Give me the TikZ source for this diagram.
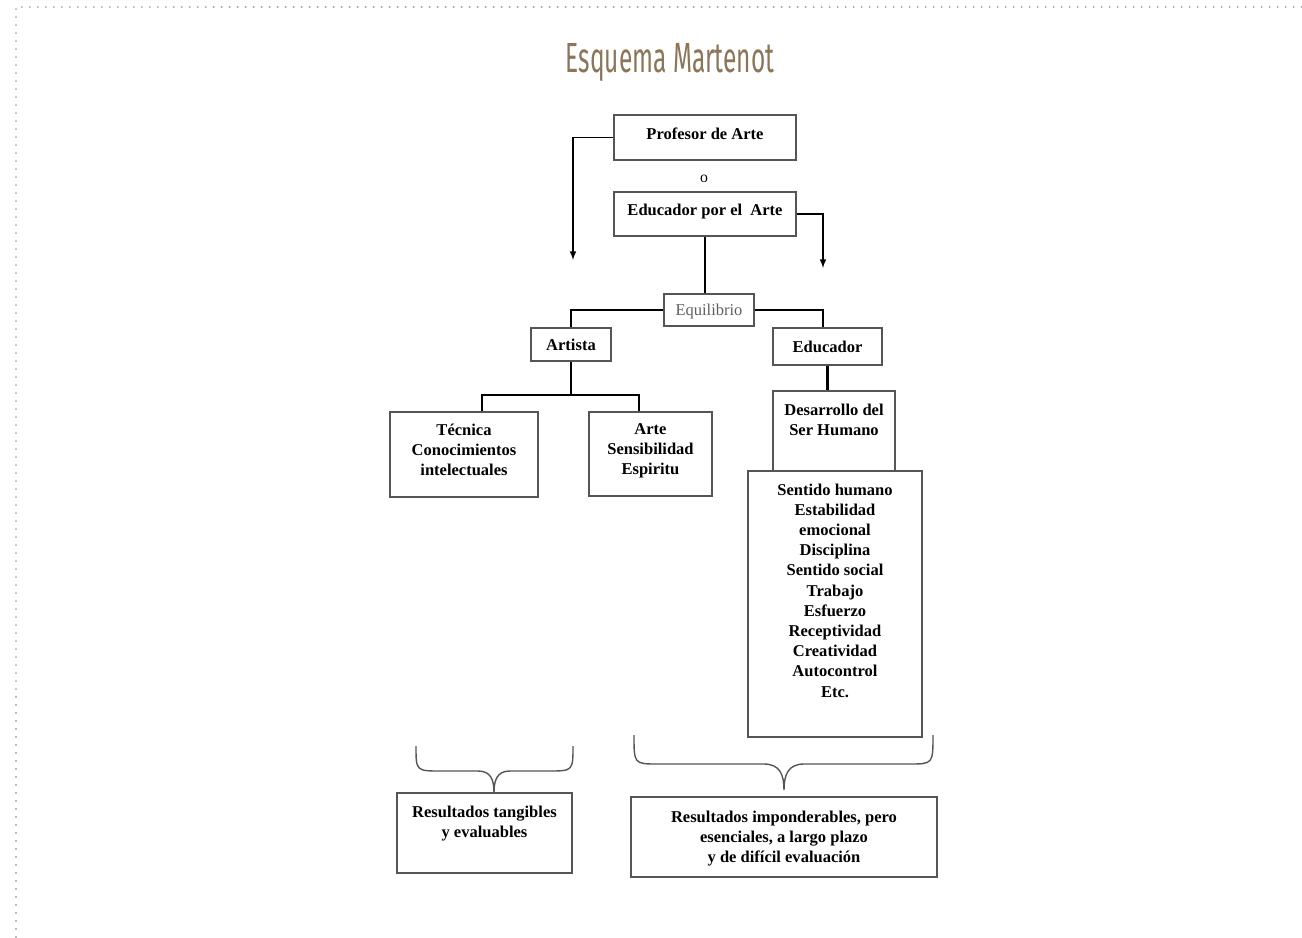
\documentclass[tikz,border=0pt]{standalone}
\usepackage{fontspec}
\setmainfont{Liberation Serif}
\newfontfamily\titlefont[FakeStretch=0.58]{Fira Sans}
\usetikzlibrary{arrows}
\usetikzlibrary{positioning}
\definecolor{Title-brown}{RGB}{140,117,88}
\definecolor{Frame-gray}{RGB}{165,165,165}
\definecolor{Box-gray}{RGB}{85,85,85}
\definecolor{Text-gray}{RGB}{95,95,95}

\begin{document}
\begin{tikzpicture}[x=0.02cm, y=-0.02cm]
    \tikzset{ box/.style ={draw=Box-gray, line width=0.8pt, align=center, font=\fontsize{9.4}{11.5}\selectfont\bfseries, inner sep=0pt} }
    \tikzset{ txt/.style ={align=center, font=\fontsize{9.4}{11.5}\selectfont\bfseries, inner sep=0pt} }
    \tikzset{ lnk/.style ={draw=black, line width=1.3pt} }
    \tikzset{ arr/.style ={draw=black, line width=0.7pt, ->, >=latex} }
    \tikzset{ brc/.style ={draw=Box-gray, line width=0.8pt} }
    \tikzset{ frm/.style ={draw=Frame-gray, line width=1.2pt, line cap=round, dash pattern=on 0pt off 0.16cm} }

    \useasboundingbox (0,0) rectangle (1302,937);
    \draw[frm] (16,937) -- (16,7) -- (1302,7);

    \node[text=Title-brown, font=\titlefont\fontsize{24}{28}\selectfont] (title) at (670,62) {Esquema Martenot};

    \node[box, minimum width=3.64cm, minimum height=0.90cm, text depth=0.16cm] (prof) at (705,137.5) {Profesor de Arte};
    \node[txt, font=\fontsize{9}{11.5}\selectfont]                             (o)    at (704,179)   {o};
    \node[box, minimum width=3.64cm, minimum height=0.88cm, text depth=0.16cm] (edu)  at (705,214)   {Educador por el~ Arte};
    \node[box, minimum width=1.80cm, minimum height=0.64cm, text depth=0pt, font=\fontsize{9.4}{11.5}\selectfont, text=Text-gray] (equi) at (709,310) {Equilibrio};
    \node[box, minimum width=1.60cm, minimum height=0.66cm] (art)  at (571,344.5) {Artista};
    \node[box, minimum width=2.18cm, minimum height=0.74cm] (educ) at (827.5,346.5) {Educador};

    \node[box, minimum width=2.96cm, minimum height=1.70cm] (tec)  at (464,454.5) {};
    \node[box, minimum width=2.46cm, minimum height=1.68cm] (arte) at (650.5,454) {};
    \node[box, minimum width=2.44cm, minimum height=1.60cm] (des)  at (834,431)   {};
    \node[box, minimum width=3.48cm, minimum height=5.32cm] (cual) at (835,604)   {};
    \node[box, minimum width=3.50cm, minimum height=1.60cm] (res1) at (484.5,833) {};
    \node[box, minimum width=6.12cm, minimum height=1.60cm] (res2) at (784,837)   {};

    \node[txt, below=0.24cm of tec.north]  (tec_t)  {T\'ecnica\\Conocimientos\\intelectuales};
    \node[txt, below=0.24cm of arte.north] (arte_t) {Arte\\Sensibilidad\\Espiritu};
    \node[txt, below=0.26cm of des.north]  (des_t)  {Desarrollo del\\Ser Humano};
    \node[txt, below=0.26cm of cual.north] (cual_t) {Sentido humano\\Estabilidad\\emocional\\Disciplina\\Sentido social\\Trabajo\\Esfuerzo\\Receptividad\\Creatividad\\Autocontrol\\Etc.};
    \node[txt, below=0.26cm of res1.north] (res1_t) {Resultados tangibles\\y evaluables};
    \node[txt, below=0.28cm of res2.north] (res2_t) {Resultados imponderables, pero\\esenciales, a largo plazo\\y de dif\'icil evaluaci\'on};

    \coordinate (aL) at (573,260);
    \coordinate (aR) at (823,268);
    \coordinate (aj) at (571,395);
    \draw[arr] (prof.west) -| (aL);
    \draw[arr] (edu.east)  -| (aR);
    \draw[lnk] (edu.south) -- (edu.south |- equi.north);
    \draw[lnk] (equi.west) -| (art.north);
    \draw[lnk] (equi.east) -| ([xshift=-0.09cm]educ.north);
    \draw[lnk] (art.south) -- (aj);
    \draw[lnk] ([xshift=0.36cm]tec.north) |- (aj) -| ([xshift=-0.23cm]arte.north);
    \draw[lnk] (educ.south) -- (educ.south |- des.north);

    % braces
    \coordinate (bl1) at (416,746);
    \coordinate (bl2) at (573,746);
    \coordinate (br1) at (634,735);
    \coordinate (br2) at (933,735);
    \draw[brc] (bl1) .. controls (416,771) .. (441,771) -- (478,771) .. controls (491,771) and (494,780) .. (494,793)
               .. controls (494,780) and (497,771) .. (510,771) -- (548,771) .. controls (573,771) .. (bl2);
    \draw[brc] (br1) .. controls (634,764) .. (658,764) -- (764,764) .. controls (780,764) and (784,775) .. (784,790)
               .. controls (784,775) and (788,764) .. (804,764) -- (909,764) .. controls (933,764) .. (br2);
\end{tikzpicture}
\end{document}
